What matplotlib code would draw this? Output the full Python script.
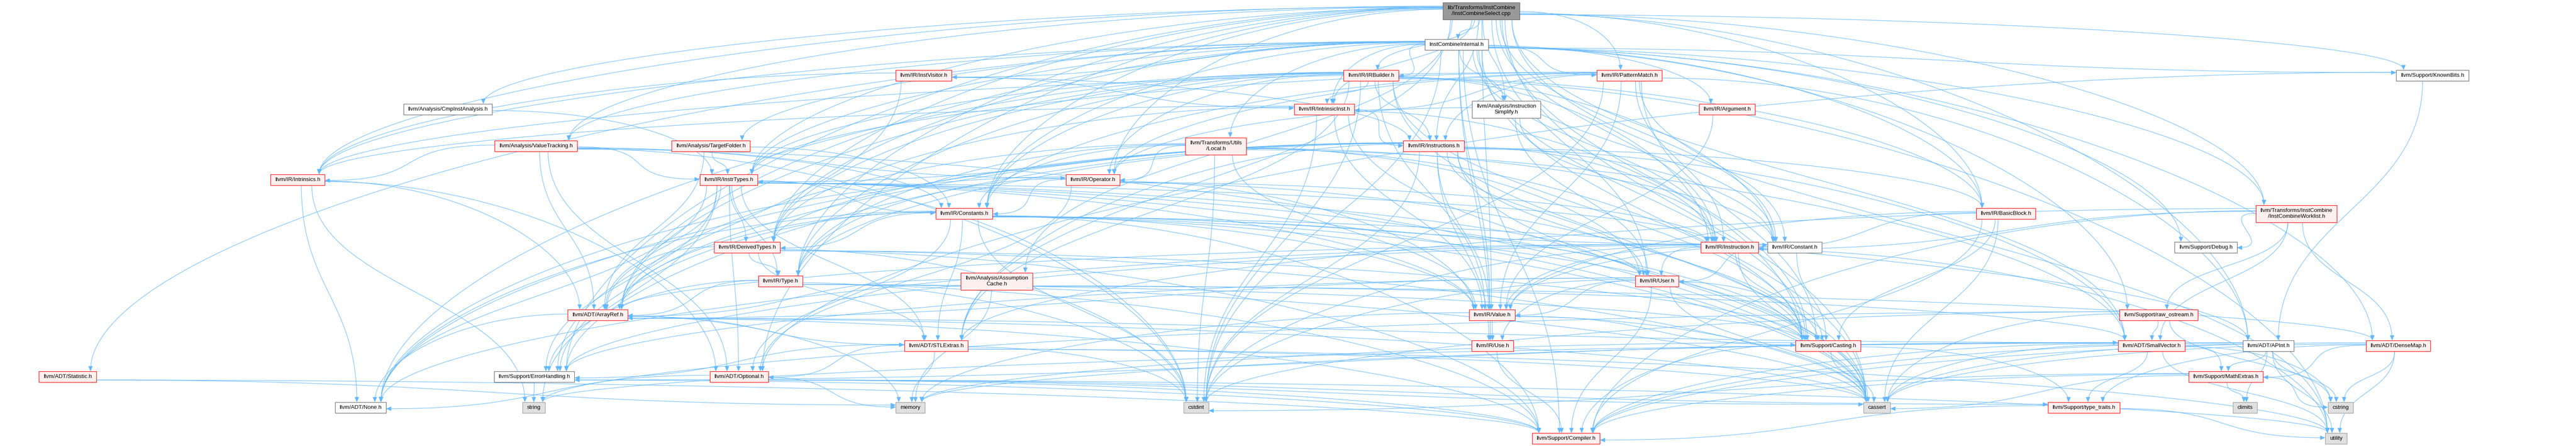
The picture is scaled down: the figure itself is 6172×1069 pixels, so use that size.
import matplotlib
matplotlib.use("Agg")
import matplotlib.pyplot as plt
from matplotlib.patches import Rectangle, FancyArrowPatch
from matplotlib.path import Path
import numpy as np

# Include graph of lib/Transforms/InstCombine/InstCombineSelect.cpp
node_keys = [
    "root", "ici", "instvisitor", "irbuilder", "patternmatch", "knownbits",
    "cmpinst", "intrinsicinst", "instsimplify", "argument",
    "valuetracking", "targetfolder", "local", "instructions",
    "intrinsics", "instrtypes", "operator",
    "constants", "basicblock", "worklist",
    "derivedtypes", "instruction", "constant", "debug",
    "type", "assumption", "user",
    "arrayref", "value", "rawostream",
    "stlextras", "use", "casting", "smallvector", "apint", "densemap",
    "statistic", "errorhandling", "optional", "mathextras",
    "none", "string", "memory", "cstdint", "cassert", "typetraits", "climits", "cstring",
    "compiler", "utility",
]

node_labels = {
    "root": "lib/Transforms/InstCombine\n/InstCombineSelect.cpp",
    "ici": "InstCombineInternal.h",
    "instvisitor": "llvm/IR/InstVisitor.h",
    "irbuilder": "llvm/IR/IRBuilder.h",
    "patternmatch": "llvm/IR/PatternMatch.h",
    "knownbits": "llvm/Support/KnownBits.h",
    "cmpinst": "llvm/Analysis/CmpInstAnalysis.h",
    "intrinsicinst": "llvm/IR/IntrinsicInst.h",
    "instsimplify": "llvm/Analysis/Instruction\nSimplify.h",
    "argument": "llvm/IR/Argument.h",
    "valuetracking": "llvm/Analysis/ValueTracking.h",
    "targetfolder": "llvm/Analysis/TargetFolder.h",
    "local": "llvm/Transforms/Utils\n/Local.h",
    "instructions": "llvm/IR/Instructions.h",
    "intrinsics": "llvm/IR/Intrinsics.h",
    "instrtypes": "llvm/IR/InstrTypes.h",
    "operator": "llvm/IR/Operator.h",
    "constants": "llvm/IR/Constants.h",
    "basicblock": "llvm/IR/BasicBlock.h",
    "worklist": "llvm/Transforms/InstCombine\n/InstCombineWorklist.h",
    "derivedtypes": "llvm/IR/DerivedTypes.h",
    "instruction": "llvm/IR/Instruction.h",
    "constant": "llvm/IR/Constant.h",
    "debug": "llvm/Support/Debug.h",
    "type": "llvm/IR/Type.h",
    "assumption": "llvm/Analysis/Assumption\nCache.h",
    "user": "llvm/IR/User.h",
    "arrayref": "llvm/ADT/ArrayRef.h",
    "value": "llvm/IR/Value.h",
    "rawostream": "llvm/Support/raw_ostream.h",
    "stlextras": "llvm/ADT/STLExtras.h",
    "use": "llvm/IR/Use.h",
    "casting": "llvm/Support/Casting.h",
    "smallvector": "llvm/ADT/SmallVector.h",
    "apint": "llvm/ADT/APInt.h",
    "densemap": "llvm/ADT/DenseMap.h",
    "statistic": "llvm/ADT/Statistic.h",
    "errorhandling": "llvm/Support/ErrorHandling.h",
    "optional": "llvm/ADT/Optional.h",
    "mathextras": "llvm/Support/MathExtras.h",
    "none": "llvm/ADT/None.h",
    "string": "string",
    "memory": "memory",
    "cstdint": "cstdint",
    "cassert": "cassert",
    "typetraits": "llvm/Support/type_traits.h",
    "climits": "climits",
    "cstring": "cstring",
    "compiler": "llvm/Support/Compiler.h",
    "utility": "utility",
}

# root / complete (white) / truncated (red) / system header
white_nodes = ["ici", "knownbits", "cmpinst", "instsimplify", "constant", "debug",
               "apint", "errorhandling", "none"]
system_nodes = ["string", "memory", "cstdint", "cassert", "climits", "cstring", "utility"]

includes = {
    "root": ["ici", "apint", "optional", "stlextras", "smallvector", "assumption",
             "cmpinst", "instsimplify", "valuetracking", "basicblock", "constant",
             "constants", "derivedtypes", "irbuilder", "instrtypes", "instruction",
             "instructions", "intrinsicinst", "intrinsics", "operator", "patternmatch",
             "type", "user", "value", "casting", "errorhandling", "knownbits",
             "worklist", "cassert", "utility"],
    "ici": ["arrayref", "densemap", "statistic", "instsimplify", "targetfolder",
            "valuetracking", "argument", "basicblock", "constant", "constants",
            "derivedtypes", "irbuilder", "instvisitor", "instrtypes", "instruction",
            "intrinsicinst", "intrinsics", "patternmatch", "use", "value", "casting",
            "compiler", "debug", "knownbits", "rawostream", "worklist", "local",
            "cassert", "cstdint"],
    "instvisitor": ["instructions", "intrinsicinst", "intrinsics", "errorhandling"],
    "irbuilder": ["arrayref", "none", "stlextras", "basicblock", "constant", "constants",
                  "derivedtypes", "instrtypes", "instruction", "instructions",
                  "intrinsicinst", "operator", "type", "value", "casting", "cassert",
                  "cstdint", "utility"],
    "patternmatch": ["apint", "constant", "constants", "instrtypes", "instruction",
                     "instructions", "intrinsicinst", "intrinsics", "operator", "value",
                     "casting", "cstdint"],
    "knownbits": ["apint", "optional"],
    "cmpinst": ["instrtypes"],
    "intrinsicinst": ["derivedtypes", "instructions", "intrinsics", "value", "casting",
                      "cassert", "cstdint"],
    "instsimplify": ["instruction", "operator", "user"],
    "argument": ["value"],
    "valuetracking": ["arrayref", "optional", "constants", "instrtypes", "intrinsics",
                      "operator", "cassert", "cstdint"],
    "targetfolder": ["arrayref", "constants", "instrtypes"],
    "local": ["arrayref", "smallvector", "constant", "constants", "operator", "type",
              "user", "value", "casting", "cstdint"],
    "instructions": ["arrayref", "none", "stlextras", "smallvector", "basicblock",
                     "constant", "derivedtypes", "instrtypes", "instruction", "type",
                     "use", "user", "value", "casting", "errorhandling", "cassert",
                     "cstdint"],
    "intrinsics": ["arrayref", "none", "optional", "string"],
    "instrtypes": ["arrayref", "none", "optional", "stlextras", "constants",
                   "derivedtypes", "instruction", "type", "user", "value", "casting",
                   "errorhandling", "cassert", "cstdint", "string"],
    "operator": ["none", "optional", "constants", "instruction", "type", "value",
                 "casting"],
    "constants": ["apint", "arrayref", "none", "optional", "stlextras", "constant",
                  "derivedtypes", "user", "value", "casting", "compiler",
                  "errorhandling", "cassert", "cstdint"],
    "basicblock": ["instruction", "value", "casting", "compiler", "cassert"],
    "worklist": ["densemap", "stlextras", "smallvector", "instruction", "compiler",
                 "debug", "rawostream"],
    "derivedtypes": ["arrayref", "stlextras", "type", "casting", "compiler", "cassert",
                     "cstdint"],
    "instruction": ["arrayref", "none", "user", "value", "casting", "cassert",
                    "cstdint", "utility"],
    "constant": ["user", "value", "casting", "errorhandling"],
    "type": ["arrayref", "casting", "compiler", "errorhandling", "cassert", "cstdint"],
    "assumption": ["arrayref", "densemap", "smallvector", "memory"],
    "user": ["arrayref", "use", "value", "casting", "compiler", "errorhandling",
             "cassert", "cstdint"],
    "arrayref": ["none", "stlextras", "smallvector", "compiler", "cassert", "memory"],
    "value": ["use", "casting", "cassert", "memory"],
    "rawostream": ["smallvector", "cassert", "cstdint", "cstring", "string"],
    "stlextras": ["optional", "errorhandling", "cassert", "cstdint", "memory", "utility"],
    "use": ["compiler"],
    "casting": ["typetraits", "compiler", "cassert", "memory"],
    "smallvector": ["compiler", "errorhandling", "mathextras", "typetraits", "cassert",
                    "cstring", "memory", "utility"],
    "apint": ["compiler", "mathextras", "cassert", "climits", "cstring", "string",
              "utility"],
    "densemap": ["compiler", "mathextras", "typetraits", "cassert", "cstring", "utility"],
    "statistic": ["compiler", "memory"],
    "errorhandling": ["compiler", "string"],
    "optional": ["none", "compiler", "typetraits", "cassert", "memory", "utility"],
    "mathextras": ["compiler", "cassert", "climits", "cstdint", "cstring"],
    "typetraits": ["compiler", "utility"],
}

# ---- layout (rank row, x centre in pixels) ----
RANK_Y = [26, 107, 181, 262, 350, 431, 512, 593, 674, 755, 829, 903, 977, 1051]
layout = {
    "root": (0, 3549), "ici": (1, 3490),
    "instvisitor": (2, 2213), "irbuilder": (2, 3285), "patternmatch": (2, 3904),
    "knownbits": (2, 5828),
    "cmpinst": (3, 1073), "intrinsicinst": (3, 3173), "instsimplify": (3, 3609),
    "argument": (3, 4138),
    "valuetracking": (4, 1284), "targetfolder": (4, 1703), "local": (4, 2913),
    "instructions": (4, 3435),
    "intrinsics": (5, 713), "instrtypes": (5, 1746), "operator": (5, 2618),
    "constants": (6, 2310), "basicblock": (6, 4806), "worklist": (6, 5502),
    "derivedtypes": (7, 1790), "instruction": (7, 4144), "constant": (7, 4300),
    "debug": (7, 5285),
    "type": (8, 1870), "assumption": (8, 2388), "user": (8, 3970),
    "arrayref": (9, 1432), "value": (9, 3575), "rawostream": (9, 5172),
    "stlextras": (10, 2243), "use": (10, 3576), "casting": (10, 4380),
    "smallvector": (10, 5155), "apint": (10, 5435), "densemap": (10, 5746),
    "statistic": (11, 162), "errorhandling": (11, 1280), "optional": (11, 1771),
    "mathextras": (11, 5333),
    "none": (12, 864), "string": (12, 1279), "memory": (12, 2181), "cstdint": (12, 2866),
    "cassert": (12, 4497), "typetraits": (12, 4993), "climits": (12, 5379),
    "cstring": (12, 5608),
    "compiler": (13, 3752), "utility": (13, 5597),
}

W, H = 6172, 1069
EDGE = "#63B8FF"
FONT = ["Liberation Sans", "DejaVu Sans"]

fig = plt.figure(figsize=(W / 100, H / 100), dpi=100)
ax = fig.add_axes([0, 0, 1, 1])
ax.set_xlim(0, W)
ax.set_ylim(H, 0)
ax.axis("off")

renderer = fig.canvas.get_renderer()
pos, size = {}, {}
for k in node_keys:
    rank, x = layout[k]
    y = RANK_Y[rank]
    t = ax.text(x, y, node_labels[k], ha="center", va="center", fontsize=9.6,
                family=FONT, multialignment="center", linespacing=1.15, zorder=5)
    tw = t.get_window_extent(renderer).width
    nlines = node_labels[k].count("\n") + 1
    w = tw + 21
    h = 26 if nlines == 1 else 41
    pos[k] = (x, y)
    size[k] = (w, h)
    if k == "root":
        fc, ec = "#999999", "#666666"
    elif k in system_nodes:
        fc, ec = "#E0E0E0", "#999999"
    elif k in white_nodes:
        fc, ec = "white", "#666666"
    else:
        fc, ec = "#FFF0F0", "#FF0000"
    ax.add_patch(Rectangle((x - w / 2, y - h / 2), w, h, facecolor=fc, edgecolor=ec,
                           lw=0.9, zorder=4))

# ---- edges as cubic splines, tail at bottom/side, head at top/side ----
for src, targets in includes.items():
    sx, sy = pos[src]
    sw, sh = size[src]
    for dst in targets:
        tx, ty = pos[dst]
        tw_, th = size[dst]
        dx = tx - sx
        dy = ty - sy
        nr = layout[dst][0] - layout[src][0]
        if abs(dx) > 2.0 * dy:
            s = np.sign(dx)
            p0 = np.array([sx + s * sw / 2, sy + np.clip(dx * 0.004, -sh * 0.3, sh * 0.3)])
            p1 = p0 + np.array([s * 0.45 * abs(dx), 0])
        else:
            p0 = np.array([sx + np.clip(dx * 0.06, -0.4 * sw, 0.4 * sw), sy + sh / 2])
            p1 = p0 + np.array([0, 0.45 * dy])
        if nr == 1 and abs(dx) > 2.5 * dy:
            s = -np.sign(dx)
            p3 = np.array([tx + s * tw_ / 2, ty + np.clip(-dx * 0.003, -th * 0.3, th * 0.3)])
            p2 = p3 + np.array([s * 0.45 * abs(dx), 0])
        else:
            p3 = np.array([tx + np.clip(-dx * 0.06, -0.4 * tw_, 0.4 * tw_), ty - th / 2])
            p2 = p3 - np.array([0, 0.45 * dy])
        path = Path([p0, p1, p2, p3],
                    [Path.MOVETO, Path.CURVE4, Path.CURVE4, Path.CURVE4])
        ax.add_patch(FancyArrowPatch(path=path,
                                     arrowstyle="-|>,head_length=0.75,head_width=0.32",
                                     mutation_scale=10, color=EDGE, lw=0.8, zorder=2))

fig.savefig("out.png", dpi=100)
